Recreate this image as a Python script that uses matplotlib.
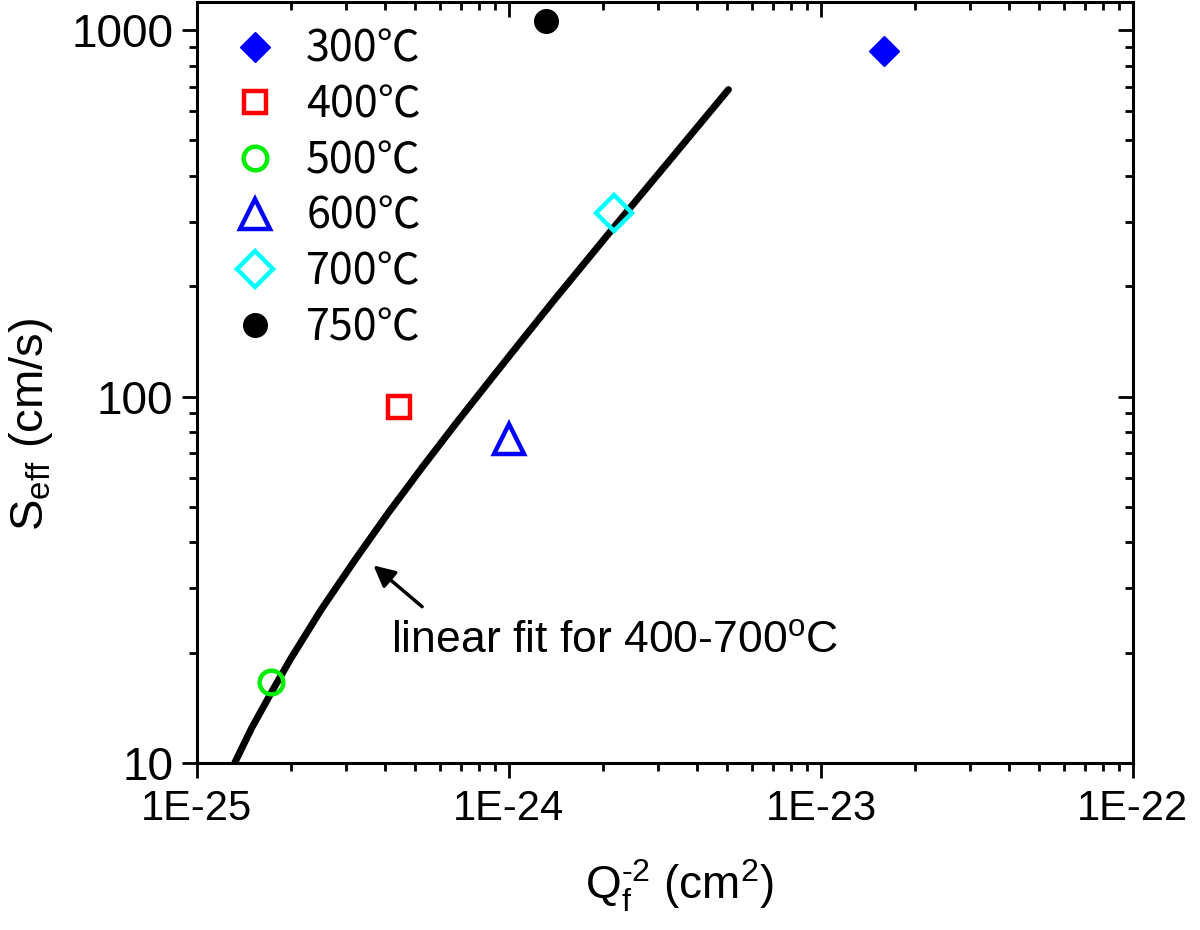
import numpy as np
import matplotlib
matplotlib.use('Agg')
import matplotlib.pyplot as plt
from matplotlib import ticker

# measured points (Qf^-2 in cm^2, Seff in cm/s)
temps = ['300℃', '400℃', '500℃', '600℃', '700℃', '750℃']
qf2 = [1.59e-23, 4.44e-25, 1.73e-25, 1.0e-24, 2.17e-24, 1.31e-24]
seff = [877, 93.5, 16.6, 76.8, 317, 1060]

# linear fit for 400-700 C
fit_x = [1.32e-25, 1.50e-25, 1.74e-25, 2.0e-25, 2.5e-25, 3.2e-25, 4.1e-25,
         5.3e-25, 6.8e-25, 8.6e-25, 1.1e-24, 1.4e-24, 2.2e-24, 3.2e-24, 5.05e-24]
fit_y = [10, 12.5, 15.7, 19.3, 26.2, 35.7, 48.1, 64.5, 85, 109.5, 142.5, 184, 294, 431, 688]

x_ticks = [1e-25, 1e-24, 1e-23, 1e-22]
y_ticks = [10, 100, 1000]

markers = ['D', 's', 'o', '^', 'D', 'o']
colors = ['#0000FF', '#FF0000', '#00EE00', '#0000FF', '#00FFFF', '#000000']
filled = [True, False, False, False, False, True]
sizes = [15.5, 16, 17, 21, 18.5, 17]

plt.rcParams['font.family'] = ['Liberation Sans', 'DejaVu Sans']
plt.rcParams['mathtext.fontset'] = 'custom'
plt.rcParams['mathtext.rm'] = 'Liberation Sans'
plt.rcParams['axes.unicode_minus'] = False

fig = plt.figure(figsize=(12, 9.3), dpi=100)
ax = fig.add_axes([197 / 1200, 1 - 763 / 930, (1133 - 197) / 1200, (763 - 2) / 930])

ax.plot(fit_x, fit_y, color='k', lw=5, solid_capstyle='round', zorder=2)

for i in range(len(temps)):
    if filled[i]:
        ax.plot(qf2[i], seff[i], linestyle='none', marker=markers[i], ms=sizes[i],
                color=colors[i], mec=colors[i], label=temps[i], zorder=3)
    else:
        ax.plot(qf2[i], seff[i], linestyle='none', marker=markers[i], ms=sizes[i],
                mfc='none', mec=colors[i], mew=3.2, label=temps[i], zorder=3)

ax.set_xscale('log')
ax.set_yscale('log')
ax.set_xlim(1e-25, 1e-22)
ax.set_ylim(10, 1193)

ax.xaxis.set_major_locator(ticker.FixedLocator(x_ticks))
ax.yaxis.set_major_locator(ticker.FixedLocator(y_ticks))
ax.xaxis.set_major_formatter(ticker.FuncFormatter(lambda v, p: '1E%d' % round(np.log10(v))))
ax.yaxis.set_major_formatter(ticker.FuncFormatter(lambda v, p: '%g' % v))
ax.xaxis.set_minor_formatter(ticker.NullFormatter())
ax.yaxis.set_minor_formatter(ticker.NullFormatter())

for s in ax.spines.values():
    s.set_linewidth(2.2)
ax.tick_params(which='major', direction='out', length=11, width=2, pad=6)
ax.tick_params(which='minor', direction='out', length=6, width=2)
ax.tick_params(axis='y', labelsize=33)
ax.tick_params(axis='x', labelsize=30, pad=8)

# top / right axes with inward ticks
top = ax.secondary_xaxis('top')
right = ax.secondary_yaxis('right')
for sec in (top, right):
    sec.tick_params(which='major', direction='in', length=11, width=2)
    sec.tick_params(which='minor', direction='in', length=6, width=2)
top.xaxis.set_major_locator(ticker.FixedLocator(x_ticks))
right.yaxis.set_major_locator(ticker.FixedLocator(y_ticks))
top.xaxis.set_major_formatter(ticker.NullFormatter())
top.xaxis.set_minor_formatter(ticker.NullFormatter())
right.yaxis.set_major_formatter(ticker.NullFormatter())
right.yaxis.set_minor_formatter(ticker.NullFormatter())

ax.set_xlabel(r'Q$_\mathregular{f}^\text{-2}$ (cm$^\mathregular{2}$)', fontsize=33)
ax.xaxis.set_label_coords(0.516, -0.124)
ax.set_ylabel(r'S$_\mathregular{eff}$ (cm/s)', fontsize=34)
ax.yaxis.set_label_coords(-0.152, 0.445)

ax.annotate('', xy=(3.62e-25, 35.0), xytext=(5.35e-25, 26.4),
            arrowprops=dict(arrowstyle='-|>', color='k', lw=2.5, mutation_scale=32))
ax.text(4.2e-25, 20.0, r'linear fit for 400-700$^\mathregular{o}$C', fontsize=32, va='baseline')

leg = ax.legend(loc='upper left', bbox_to_anchor=(0.0385, 0.966), frameon=False, numpoints=1,
                prop={'family': ['Noto Sans CJK SC', 'DejaVu Sans'], 'size': 31},
                handlelength=1.0, handletextpad=0.7, labelspacing=0.27,
                borderaxespad=0.0, borderpad=0.0)

fig.savefig('out.png', dpi=100)
